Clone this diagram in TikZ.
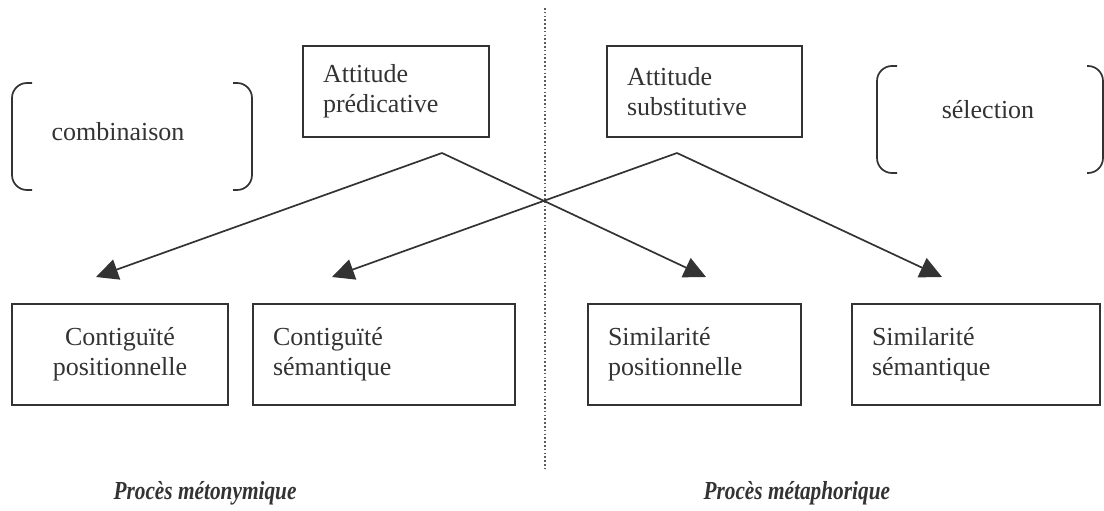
\documentclass[tikz,border=0pt]{standalone}
\usepackage{fontspec}
\setmainfont{Liberation Serif}
\usetikzlibrary{arrows.meta}
\definecolor{encre}{HTML}{333333}

\begin{document}
\begin{tikzpicture}[x=1pt,y=-1pt,
    boite/.style={draw=encre, line width=1.7pt, text=encre, inner xsep=20pt, inner ysep=0pt,
      font=\fontsize{26}{30}\selectfont},
    mot/.style={text=encre, font=\fontsize{26}{30}\selectfont},
    titre/.style={text=encre, font=\fontsize{26}{30}\selectfont\bfseries\itshape},
    crochet/.style={draw=encre, line width=1.7pt, rounded corners=15pt},
    fleche/.style={draw=encre, line width=1.7pt, -{Triangle[length=22pt,width=21pt]}},
    pointille/.style={draw=encre!80, line width=1.5pt, dash pattern=on 1.6pt off 2.2pt}]
  \useasboundingbox (0,0) rectangle (1104,511);

  % separation des deux proces
  \coordinate (sepHaut) at (545,8);
  \coordinate (sepBas) at (545,470);
  \draw[pointille] (sepHaut) -- (sepBas);

  % attitudes
  \node[boite, text width=146pt, minimum height=91pt, align=left] (predic) at (396,91.5) {Attitude\\prédicative};
  \node[boite, text width=155pt, minimum height=91pt, align=left] (substit) at (704.5,91.5) {Attitude\\substitutive};

  % les deux axes
  \node[mot] (combin) at (118,132) {combinaison};
  \draw[crochet] (32,83) -- (12,83) -- (12,190) -- (32,190);
  \draw[crochet] (233,83) -- (252,83) -- (252,190) -- (233,190);
  \node[mot] (select) at (988,110) {sélection};
  \draw[crochet] (897,66) -- (877,66) -- (877,173) -- (897,173);
  \draw[crochet] (1087,66) -- (1103,66) -- (1103,173) -- (1087,173);

  % contiguite / similarite
  \node[boite, text width=176pt, minimum height=101pt, align=center] (contpos) at (120,354.5) {Contiguïté\\positionnelle};
  \node[boite, text width=222pt, minimum height=101pt, align=left] (contsem) at (384,354.5) {Contiguïté\\sémantique};
  \node[boite, text width=173pt, minimum height=101pt, align=left] (simpos) at (694.5,354.5) {Similarité\\positionnelle};
  \node[boite, text width=208pt, minimum height=101pt, align=left] (simsem) at (976,354.5) {Similarité\\sémantique};

  % fleches
  \coordinate (sommetP) at (442,153);
  \coordinate (sommetS) at (677,153);
  \coordinate (versCP) at (96,277);
  \coordinate (versCS) at (332,277);
  \coordinate (versSP) at (706,277);
  \coordinate (versSS) at (942,277);
  \draw[fleche] (sommetP) -- (versCP);
  \draw[fleche] (sommetP) -- (versSP);
  \draw[fleche] (sommetS) -- (versCS);
  \draw[fleche] (sommetS) -- (versSS);

  % proces
  \node[titre, anchor=west] (metonym) at (110,493) {\scalebox{0.82}[1]{Procès métonymique}};
  \node[titre, anchor=west] (metaphor) at (700,493) {\scalebox{0.82}[1]{Procès métaphorique}};
\end{tikzpicture}
\end{document}
